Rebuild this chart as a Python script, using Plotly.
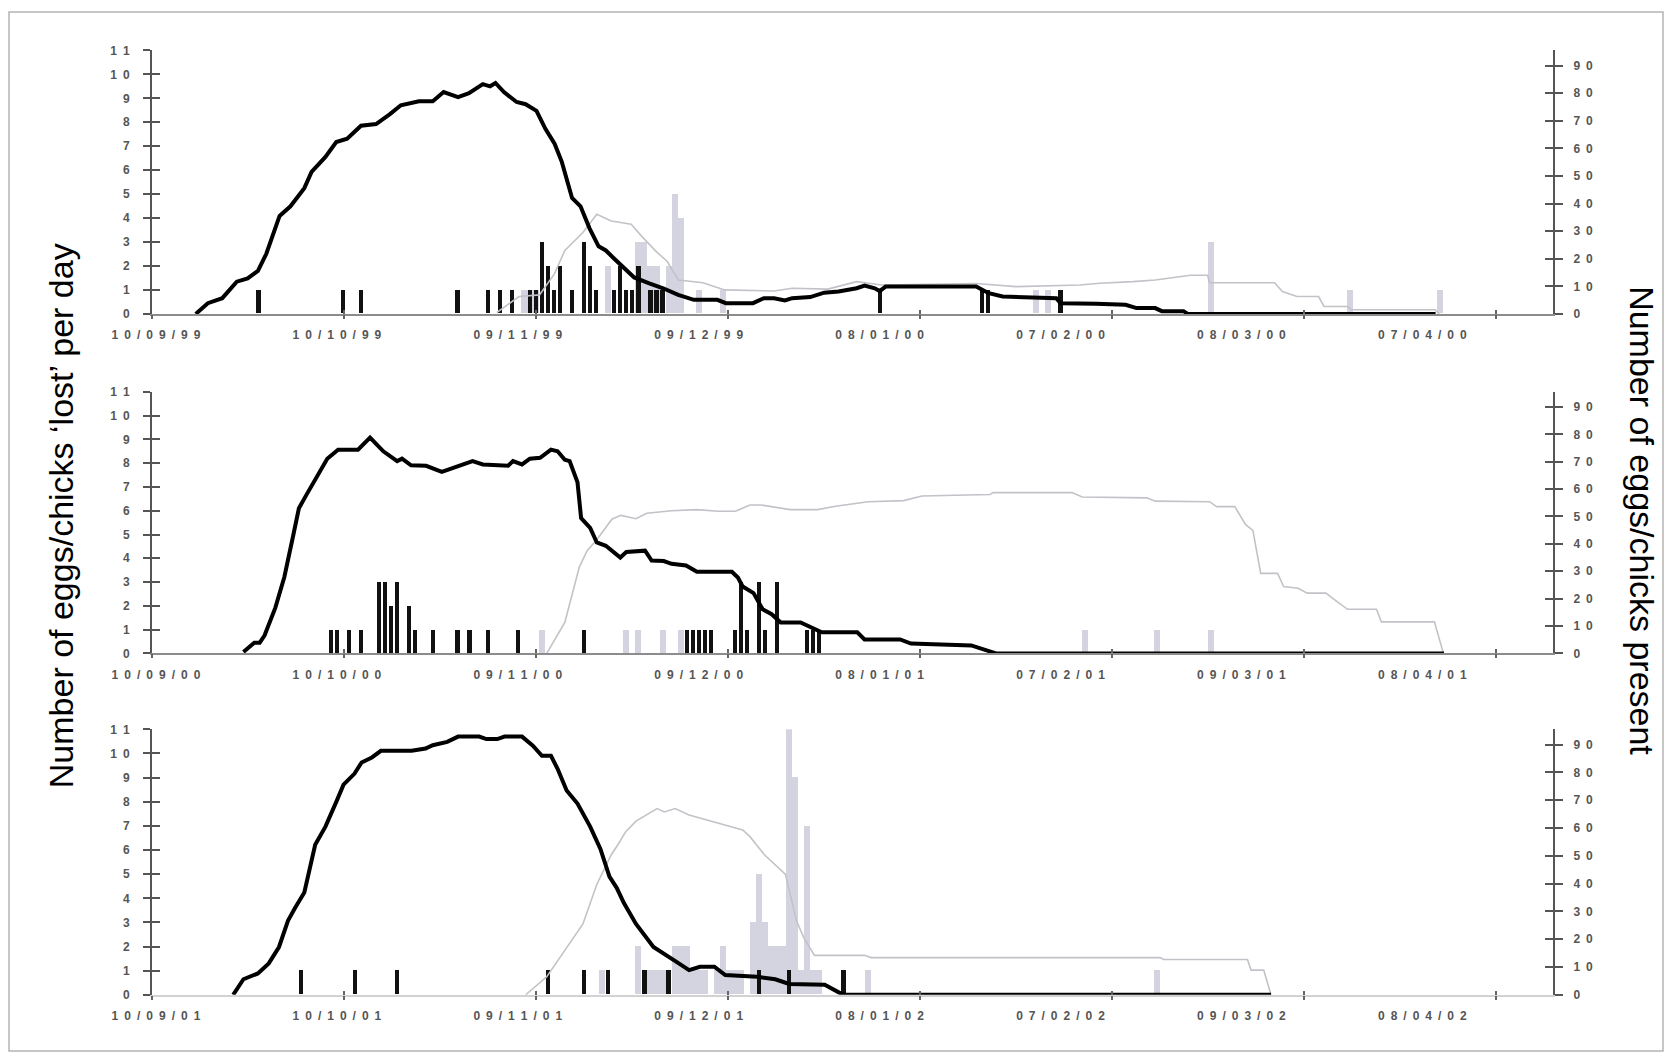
import plotly.graph_objects as go

# ---------------------------------------------------------------------------
# Data: x values are days elapsed since 10 September of each breeding season.
# "lost" series are eggs/chicks lost per day (left axis); the *_n series are
# numbers of eggs/chicks present (right axis).
# ---------------------------------------------------------------------------

LABEL_DAYS = [0, 30, 60, 90, 120, 150, 180, 210]
LABELS_1999 = ["10/09/99", "10/10/99", "09/11/99", "09/12/99",
               "08/01/00", "07/02/00", "08/03/00", "07/04/00"]
LABELS_2000 = ["10/09/00", "10/10/00", "09/11/00", "09/12/00",
               "08/01/01", "07/02/01", "09/03/01", "08/04/01"]
LABELS_2001 = ["10/09/01", "10/10/01", "09/11/01", "09/12/01",
               "08/01/02", "07/02/02", "09/03/02", "08/04/02"]

LEFT_TICKS = list(range(0, 12))
RIGHT_TICKS = list(range(0, 100, 10))

# ---- 1999/2000 season ----
EGGS_DAY_1999 = [6.6, 8.6, 11.0, 13.4, 15.2, 16.9, 18.3, 20.5, 22.3, 24.6, 25.8,
                 28.1, 29.9, 31.7, 34.0, 36.5, 38.8, 40.6, 43.6, 45.9, 47.7, 50.1,
                 51.9, 54.2, 55.4, 56.3, 57.7, 59.8, 61.3, 63.1, 64.6, 66.1, 67.3,
                 69.0, 70.4, 71.9, 73.4, 74.6, 76.0, 77.4, 79.3, 81.8, 84.1, 86.6,
                 89.2, 93.1, 94.5, 99.0, 100.8, 102.5, 104.3, 105.5, 108.5, 110.8,
                 113.2, 116.2, 117.5, 119.2, 120.0, 121.0, 136.0, 138.1, 140.4,
                 149.3, 150.0, 155.9, 160.8, 162.6, 165.7, 166.8, 170.4, 171.1, 212.2]
EGGS_N_1999 = [0, 3.9, 5.7, 11.7, 12.9, 15.6, 21.8, 35.5, 39.0, 45.6, 51.5,
               56.9, 62.3, 63.5, 68.2, 68.8, 72.4, 75.6, 77.1, 77.1, 80.4, 78.6,
               80.0, 83.3, 82.5, 83.7, 80.4, 76.8, 76.0, 73.6, 67.0, 61.7, 55.1,
               42.0, 39.0, 31.0, 24.5, 23.0, 20.0, 17.0, 13.2, 11.1, 9.3, 6.9,
               5.1, 5.1, 3.9, 3.9, 5.7, 5.7, 4.9, 5.7, 6.1, 7.7,
               8.1, 9.3, 10.3, 9.3, 8.3, 9.9, 9.9, 7.5, 6.3,
               5.7, 3.9, 3.7, 3.3, 2.1, 2.1, 1.0, 1.0, 0, 0]
CHICKS_DAY_1999 = [56.5, 60.2, 63.6, 66.1, 67.8, 70.8, 73.1, 75.5, 78.8, 80.6, 83.0,
                   84.8, 86.6, 90.7, 94.3, 102.5, 105.5, 111.4, 116.2, 120.3, 136.0,
                   142.6, 153.2, 156.5, 162.0, 165.7, 171.6, 174.4, 174.7, 185.5,
                   186.8, 189.2, 192.8, 193.7, 197.6, 198.2, 212.1, 212.8]
CHICKS_N_1999 = [0.5, 6.3, 6.9, 14.6, 23.0, 29.5, 36.1, 33.7, 32.5, 28.0, 22.5,
                 19.0, 12.3, 11.3, 8.7, 8.3, 9.3, 9.0, 11.7, 10.5, 11.0,
                 9.9, 10.5, 11.1, 11.7, 12.3, 14.0, 14.0, 11.3, 11.3,
                 8.1, 6.3, 6.3, 2.7, 2.7, 1.5, 1.5, 0]
EGGS_LOST_DAY_1999 = [17, 31, 34, 50, 55, 57, 59, 62, 63, 64, 65, 66, 67, 69, 71, 72,
                      73, 76, 77, 78, 79, 80, 82, 83, 84, 120, 137, 138, 150]
EGGS_LOST_1999 = [1, 1, 1, 1, 1, 1, 1, 1, 1, 3, 2, 1, 2, 1, 3, 2,
                  1, 1, 2, 1, 1, 2, 1, 1, 1, 1, 1, 1, 1]
CHICKS_LOST_DAY_1999 = [61, 62, 63, 75, 80, 81, 82, 83, 85, 86, 87, 90, 94,
                        146, 148, 175, 198, 213]
CHICKS_LOST_1999 = [1, 1, 1, 2, 3, 3, 2, 2, 2, 5, 4, 1, 1,
                    1, 1, 3, 1, 1]

# ---- 2000/2001 season ----
EGGS_DAY_2000 = [14.5, 16.3, 17.2, 18.0, 19.8, 21.3, 22.8, 23.7, 24.9, 27.0, 28.4,
                 30.2, 33.5, 35.5, 37.7, 40.0, 40.8, 42.3, 44.8, 47.4, 50.1, 52.5,
                 54.2, 58.4, 59.2, 60.7, 62.0, 63.7, 65.5, 66.6, 67.8, 68.6, 69.9,
                 70.5, 72.0, 73.1, 74.6, 77.0, 78.0, 81.1, 82.2, 84.2, 85.5, 87.9,
                 89.7, 95.5, 96.5, 97.3, 99.1, 100.6, 102.1, 103.6, 106.9, 108.6,
                 110.4, 116.3, 117.5, 123.4, 125.2, 135.2, 136.5, 138.8, 139.3, 213.6]
EGGS_N_2000 = [0.5, 3.9, 3.9, 6.5, 16.7, 28.0, 43.5, 53.0, 57.7, 66.1, 71.1,
               74.4, 74.4, 78.8, 73.8, 70.2, 71.1, 68.7, 68.5, 66.3, 68.5, 70.2,
               69.0, 68.5, 70.2, 69.0, 71.1, 71.4, 74.4, 73.8, 70.7, 70.2, 62.5,
               49.4, 45.8, 40.5, 39.3, 35.0, 37.0, 37.5, 33.9, 33.7, 32.7, 32.1,
               29.8, 29.8, 27.7, 24.4, 22.0, 16.1, 14.3, 11.3, 11.3, 9.5,
               7.7, 7.7, 5.1, 5.1, 3.6, 2.9, 2.0, 0.4, 0, 0]
CHICKS_DAY_2000 = [64.8, 67.8, 70.2, 71.5, 73.1, 75.6, 77.1, 79.6, 81.4, 83.2, 85.5,
                   89.7, 93.2, 96.1, 98.5, 100.3, 105.1, 109.7, 112.7, 118.1, 124.0,
                   127.0, 138.3, 138.8, 151.9, 153.6, 164.3, 165.7, 174.7, 175.9,
                   178.9, 180.7, 181.9, 183.2, 186.0, 187.0, 189.4, 190.9, 194.0,
                   195.8, 197.6, 202.4, 203.2, 212.0, 213.5]
CHICKS_N_2000 = [0, 11.3, 31.5, 37.5, 41.5, 49.0, 50.4, 49.2, 51.2, 51.5, 52.1,
                 52.5, 51.9, 51.9, 54.2, 54.2, 52.5, 52.5, 53.7, 55.4, 55.8,
                 57.5, 58.0, 58.7, 58.7, 57.1, 56.8, 55.6, 55.4, 53.6,
                 53.6, 47.0, 44.9, 29.2, 29.2, 24.4, 23.8, 22.0, 22.0,
                 19.0, 16.1, 16.1, 11.5, 11.5, 0]
EGGS_LOST_DAY_2000 = [29, 30, 32, 34, 37, 38, 39, 40, 42, 43, 46, 50, 52, 55, 60, 71,
                      88, 89, 90, 91, 92, 96, 97, 98, 100, 101, 103, 108, 109, 110]
EGGS_LOST_2000 = [1, 1, 1, 1, 3, 3, 2, 3, 2, 1, 1, 1, 1, 1, 1, 1,
                  1, 1, 1, 1, 1, 1, 3, 1, 3, 1, 3, 1, 1, 1]
CHICKS_LOST_DAY_2000 = [64, 78, 80, 84, 87, 154, 166, 175]
CHICKS_LOST_2000 = [1, 1, 1, 1, 1, 1, 1, 1]

# ---- 2001/2002 season ----
EGGS_DAY_2001 = [12.8, 14.5, 16.9, 18.7, 20.4, 21.9, 23.1, 24.6, 26.4, 28.1, 29.9,
                 31.1, 32.9, 34.1, 35.8, 37.3, 42.4, 44.7, 45.9, 48.3, 50.1, 53.6,
                 54.8, 56.6, 57.8, 60.7, 62.5, 64.0, 65.5, 66.6, 68.1, 69.9, 72.0,
                 73.7, 75.2, 76.4, 77.6, 79.6, 82.5, 84.3, 86.7, 88.4, 90.2, 92.6,
                 94.4, 99.7, 102.7, 105.0, 110.9, 113.3, 114.2, 184.9]
EGGS_N_2001 = [0, 5.6, 7.7, 11.3, 17.2, 26.7, 31.4, 36.8, 54.0, 60.5, 69.4,
               75.6, 79.5, 83.6, 85.4, 87.8, 87.8, 88.6, 89.8, 91.0, 92.9, 92.9,
               92.0, 92.0, 92.9, 92.9, 89.6, 86.0, 86.0, 81.3, 73.5, 68.8, 60.5,
               52.5, 42.5, 38.5, 33.0, 25.5, 17.2, 14.8, 11.3, 8.9, 10.1, 10.1,
               7.1, 6.5, 5.6, 3.9, 3.6, 0.8, 0, 0]
CHICKS_DAY_2001 = [61.3, 64.8, 67.8, 70.8, 73.1, 75.5, 76.6, 77.9, 79.6, 81.3, 83.1,
                   84.3, 86.1, 88.4, 91.4, 94.4, 97.3, 98.5, 100.9, 104.4, 106.2,
                   107.4, 108.6, 109.2, 117.5, 118.6, 166.5, 167.1, 181.0, 181.6,
                   183.7, 184.9]
CHICKS_N_2001 = [0, 6.5, 16.0, 25.5, 39.7, 50.4, 54.0, 58.7, 62.5, 64.7, 67.0,
                 65.8, 67.0, 64.7, 62.9, 61.1, 59.3, 56.9, 50.4, 43.3, 26.7,
                 20.7, 16.0, 14.2, 14.2, 13.4, 13.4, 12.7, 12.7, 8.9,
                 8.9, 0]
EGGS_LOST_DAY_2001 = [24, 33, 40, 65, 71, 75, 81, 85, 100, 105, 114]
EGGS_LOST_2001 = [1, 1, 1, 1, 1, 1, 1, 1, 1, 1, 1]
CHICKS_LOST_DAY_2001 = [74, 80, 82, 83, 84, 86, 87, 88, 89, 90, 91, 93, 94, 95, 96,
                        97, 99, 100, 101, 102, 103, 104, 105, 106, 107, 108, 109,
                        110, 118, 166]
CHICKS_LOST_2001 = [1, 2, 1, 1, 1, 2, 2, 2, 1, 1, 1, 1, 2, 1, 1,
                    1, 3, 5, 3, 2, 2, 2, 11, 9, 1, 7, 1,
                    1, 1, 1]

# ---------------------------------------------------------------------------
# Layout constants (pixels of the 1671 x 1064 page)
# ---------------------------------------------------------------------------
W, H = 1671, 1064
PLOT_LEFT, PLOT_RIGHT = 152, 1553
X_RANGE = [-0.66, 231.67]
TICK_STEP = 31.84          # spacing of the tick marks on the date axis
LEFT_MAX, RIGHT_MAX = 11, 95.5

FONT = "Liberation Sans, Arial, Helvetica, sans-serif"
TICK_FONT = dict(family=FONT, size=12, color="#555555", weight="bold")
AXIS_COL = "#555555"
BLACK_BAR = "#111111"
GREY_BAR = "#d3d4e0"
CHICK_LINE = "#c2c2c8"

panels = [
    dict(labels=LABELS_1999, eggs=(EGGS_DAY_1999, EGGS_N_1999),
         chicks=(CHICKS_DAY_1999, CHICKS_N_1999),
         eggs_lost=(EGGS_LOST_DAY_1999, EGGS_LOST_1999),
         chicks_lost=(CHICKS_LOST_DAY_1999, CHICKS_LOST_1999),
         top=44, bottom=311, xline="#8c8c8c"),
    dict(labels=LABELS_2000, eggs=(EGGS_DAY_2000, EGGS_N_2000),
         chicks=(CHICKS_DAY_2000, CHICKS_N_2000),
         eggs_lost=(EGGS_LOST_DAY_2000, EGGS_LOST_2000),
         chicks_lost=(CHICKS_LOST_DAY_2000, CHICKS_LOST_2000),
         top=390, bottom=655, xline="#8c8c8c"),
    dict(labels=LABELS_2001, eggs=(EGGS_DAY_2001, EGGS_N_2001),
         chicks=(CHICKS_DAY_2001, CHICKS_N_2001),
         eggs_lost=(EGGS_LOST_DAY_2001, EGGS_LOST_2001),
         chicks_lost=(CHICKS_LOST_DAY_2001, CHICKS_LOST_2001),
         top=732, bottom=1001, xline="#d2d2d2"),
]


def spaced(text):
    """Wide letter spacing used by the axis labels."""
    return "\u2002".join(str(text))


def px_x(px):
    return (px - PLOT_LEFT) / (PLOT_RIGHT - PLOT_LEFT)


def px_y(px):
    return 1 - px / H


def ax_key(kind, n):
    return f"{kind}axis" if n == 1 else f"{kind}axis{n}"


def ax_ref(kind, n):
    return kind if n == 1 else f"{kind}{n}"


fig = go.Figure()
layout_axes = {}

for i, p in enumerate(panels):
    xm, xo, xi = 3 * i + 1, 3 * i + 2, 3 * i + 3
    yl, yli, yr, yri = 4 * i + 1, 4 * i + 2, 4 * i + 3, 4 * i + 4
    domain = [px_y(p["bottom"]), px_y(p["top"])]

    # main date axis: carries the labels
    layout_axes[ax_key("x", xm)] = dict(
        domain=[0, 1], range=X_RANGE, anchor=ax_ref("y", yl),
        tickmode="array", tickvals=LABEL_DAYS,
        ticktext=[spaced(t) for t in p["labels"]],
        ticks="", showline=True, linecolor=p["xline"], linewidth=1.5,
        tickfont=TICK_FONT, ticklabelstandoff=9,
        showgrid=False, zeroline=False, fixedrange=True)
    # crossing tick marks on the date axis
    for n, side in ((xo, "outside"), (xi, "inside")):
        layout_axes[ax_key("x", n)] = dict(
            overlaying=ax_ref("x", xm), anchor=ax_ref("y", yl), range=X_RANGE,
            tickmode="linear", tick0=X_RANGE[0], dtick=TICK_STEP,
            ticks=side, ticklen=4, tickwidth=1.5, tickcolor="#666666",
            showticklabels=False, showline=False, showgrid=False,
            zeroline=False, fixedrange=True)

    # left axis: lost per day
    layout_axes[ax_key("y", yl)] = dict(
        domain=domain, range=[0, LEFT_MAX], anchor=ax_ref("x", xm),
        tickmode="array", tickvals=LEFT_TICKS,
        ticktext=[spaced(v) for v in LEFT_TICKS],
        ticks="outside", ticklen=7, tickwidth=1.5, tickcolor=AXIS_COL,
        showline=True, linecolor=AXIS_COL, linewidth=2,
        tickfont=TICK_FONT, ticklabelstandoff=11,
        showgrid=False, zeroline=False, fixedrange=True)
    layout_axes[ax_key("y", yli)] = dict(
        overlaying=ax_ref("y", yl), anchor=ax_ref("x", xm), range=[0, LEFT_MAX],
        tickmode="array", tickvals=LEFT_TICKS, ticks="inside", ticklen=8,
        tickwidth=1.5, tickcolor=AXIS_COL, showticklabels=False,
        showline=False, showgrid=False, zeroline=False, fixedrange=True)

    # right axis: number present
    layout_axes[ax_key("y", yr)] = dict(
        overlaying=ax_ref("y", yl), anchor=ax_ref("x", xm), side="right",
        range=[0, RIGHT_MAX], tickmode="array", tickvals=RIGHT_TICKS,
        ticktext=[spaced(v) for v in RIGHT_TICKS],
        ticks="outside", ticklen=8, tickwidth=1.5, tickcolor=AXIS_COL,
        showline=True, linecolor=AXIS_COL, linewidth=2,
        tickfont=TICK_FONT, ticklabelstandoff=8,
        showgrid=False, zeroline=False, fixedrange=True)
    layout_axes[ax_key("y", yri)] = dict(
        overlaying=ax_ref("y", yl), anchor=ax_ref("x", xm), side="right",
        range=[0, RIGHT_MAX], tickmode="array", tickvals=RIGHT_TICKS,
        ticks="inside", ticklen=8, tickwidth=1.5, tickcolor=AXIS_COL,
        showticklabels=False, showline=False, showgrid=False,
        zeroline=False, fixedrange=True)

    common = dict(showlegend=False, hoverinfo="skip")
    # daily losses
    fig.add_trace(go.Bar(x=p["chicks_lost"][0], y=p["chicks_lost"][1], width=1.0,
                         marker=dict(color=GREY_BAR, line=dict(width=0)),
                         xaxis=ax_ref("x", xm), yaxis=ax_ref("y", yl), **common))
    fig.add_trace(go.Bar(x=p["eggs_lost"][0], y=p["eggs_lost"][1], width=0.7,
                         marker=dict(color=BLACK_BAR, line=dict(width=0)),
                         xaxis=ax_ref("x", xm), yaxis=ax_ref("y", yl), **common))
    # numbers present
    fig.add_trace(go.Scatter(x=p["chicks"][0], y=p["chicks"][1], mode="lines",
                             line=dict(color=CHICK_LINE, width=1.6),
                             xaxis=ax_ref("x", xm), yaxis=ax_ref("y", yr), **common))
    fig.add_trace(go.Scatter(x=p["eggs"][0], y=p["eggs"][1], mode="lines",
                             line=dict(color="#000000", width=4),
                             xaxis=ax_ref("x", xm), yaxis=ax_ref("y", yr), **common))
    # empty traces so that the tick-only axes are drawn
    for xa, ya in ((xo, yl), (xi, yl), (xm, yli), (xm, yri)):
        fig.add_trace(go.Scatter(x=[], y=[], mode="lines",
                                 xaxis=ax_ref("x", xa), yaxis=ax_ref("y", ya), **common))

fig.update_layout(**layout_axes)

fig.update_layout(
    width=W, height=H, autosize=False,
    margin=dict(l=PLOT_LEFT, r=W - PLOT_RIGHT, t=0, b=0, pad=0),
    paper_bgcolor="white", plot_bgcolor="white",
    barmode="overlay", bargap=0,
    showlegend=False,
    font=dict(family=FONT, color="#000000"),
    annotations=[
        dict(text="Number of eggs/chicks \u2018lost\u2019 per day",
             xref="paper", yref="paper", x=px_x(61), y=px_y(516),
             textangle=-90, showarrow=False, xanchor="center", yanchor="middle",
             font=dict(family=FONT, size=34, color="#000000")),
        dict(text="Number of eggs/chicks present",
             xref="paper", yref="paper", x=px_x(1642), y=px_y(520),
             textangle=90, showarrow=False, xanchor="center", yanchor="middle",
             font=dict(family=FONT, size=34, color="#000000")),
    ],
    shapes=[
        dict(type="rect", xref="paper", yref="paper",
             x0=px_x(9), x1=px_x(1663), y0=px_y(1058), y1=px_y(5),
             line=dict(color="#b4b4b4", width=1.5), fillcolor="rgba(0,0,0,0)",
             layer="below"),
    ],
)

fig.write_html("out.html")
